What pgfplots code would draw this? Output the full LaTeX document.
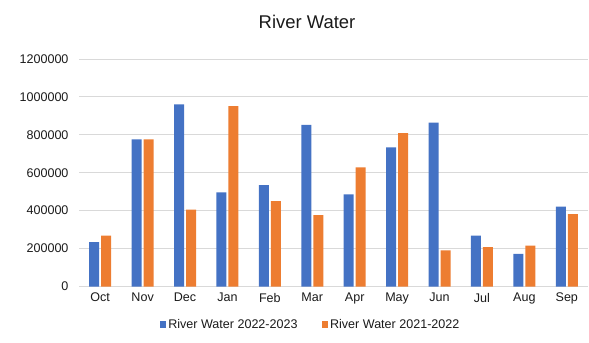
\documentclass[border=0pt]{standalone}
\usepackage{fontspec}
\setmainfont{Liberation Sans}
\usepackage{pgfplots}
\pgfplotsset{compat=1.18}
\definecolor{serA}{HTML}{4472C4}
\definecolor{serB}{HTML}{ED7D31}
\definecolor{gridc}{HTML}{D9D9D9}
\definecolor{txt}{HTML}{1A1A1A}
\begin{document}
\begin{tikzpicture}
\useasboundingbox (0,0) rectangle (589bp,343bp);
\begin{axis}[
  at={(79bp,56.5bp)}, anchor=south west,
  scale only axis, width=509bp, height=227.5bp,
  ybar=2bp, bar width=10bp,
  xmin=-0.5, xmax=11.5, ymin=0, ymax=1200000,
  xtick=data,
  xticklabels={Oct,Nov,Dec,Jan,Feb,Mar,Apr,May,Jun,Jul,Aug,Sep},
  ytick={0,200000,400000,600000,800000,1000000,1200000},
  scaled y ticks=false,
  yticklabel style={/pgf/number format/fixed,/pgf/number format/1000 sep={},/pgf/number format/assume math mode=true},
  ymajorgrids, grid style={gridc, line width=0.9bp},
  axis x line*=bottom, axis y line*=left,
  x axis line style={gridc, line width=0.9bp},
  y axis line style={draw=none},
  major tick length=0pt,
  tick label style={font=\fontsize{12.6}{14}\selectfont, text=txt},
  yticklabel style={xshift=-7bp},
  xticklabel style={yshift=-3bp},
  legend style={at={(0.455,-0.169)}, anchor=center, draw=none, fill=none,
    font=\fontsize{12.6}{14}\selectfont, text=txt, legend columns=2,
    /tikz/every even column/.append style={column sep=22bp}},
  legend cell align=left,
]
\addplot[fill=serA, draw=none, legend image code/.code={\fill[serA] (0bp,-3bp) rectangle (6.5bp,3.5bp);}] coordinates {
(0,234000) (1,776000) (2,961000) (3,496000) (4,535000) (5,853000)
(6,486000) (7,734000) (8,864000) (9,269000) (10,172000) (11,421000)};
\addplot[fill=serB, draw=none, legend image code/.code={\fill[serB] (0bp,-3bp) rectangle (6.5bp,3.5bp);}] coordinates {
(0,269000) (1,776000) (2,406000) (3,952000) (4,450000) (5,377000)
(6,628000) (7,809000) (8,190000) (9,208000) (10,216000) (11,382000)};
\legend{River Water 2022-2023, River Water 2021-2022}
\end{axis}
\node[text=txt, font=\fontsize{18.5}{22}\selectfont] at (307bp,321bp) {River Water};
\end{tikzpicture}
\end{document}
